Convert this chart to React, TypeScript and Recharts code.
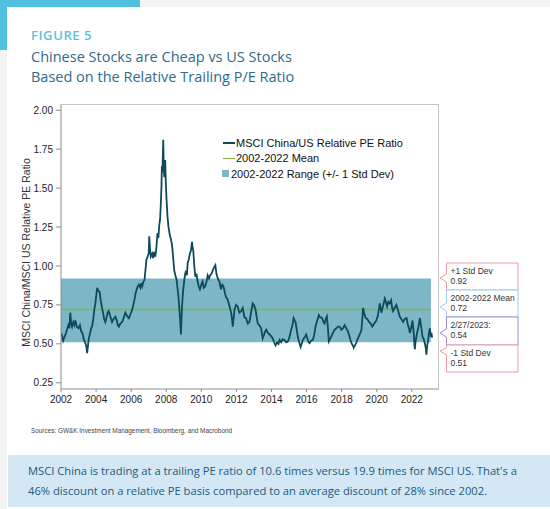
import React from "react";
import {
  LineChart,
  Line,
  XAxis,
  YAxis,
  ReferenceArea,
  ReferenceLine,
} from "recharts";

// decimal year of each reading
const years = [
  2002.0, 2002.06, 2002.12, 2002.18, 2002.26, 2002.34, 2002.42, 2002.48, 2002.53, 2002.58,
  2002.63, 2002.7, 2002.76, 2002.82, 2002.9, 2003.0, 2003.08, 2003.15, 2003.22, 2003.3,
  2003.39, 2003.45, 2003.49, 2003.54, 2003.58, 2003.66, 2003.72, 2003.77, 2003.84, 2003.9,
  2003.96, 2004.02, 2004.06, 2004.12, 2004.2, 2004.26, 2004.34, 2004.4, 2004.46, 2004.53,
  2004.6, 2004.66, 2004.72, 2004.8, 2004.86, 2004.91, 2005.0, 2005.1, 2005.18, 2005.24,
  2005.3, 2005.38, 2005.49, 2005.58, 2005.67, 2005.76, 2005.87, 2005.96, 2006.06, 2006.14,
  2006.2, 2006.25, 2006.32, 2006.38, 2006.44, 2006.52, 2006.58, 2006.63, 2006.7, 2006.76,
  2006.82, 2006.87, 2006.94, 2007.0, 2007.03, 2007.08, 2007.12, 2007.2, 2007.26, 2007.31,
  2007.38, 2007.44, 2007.5, 2007.55, 2007.6, 2007.65, 2007.7, 2007.73, 2007.75, 2007.78,
  2007.81, 2007.83, 2007.86, 2007.89, 2007.92, 2007.94, 2007.98, 2008.02, 2008.07, 2008.13,
  2008.2, 2008.27, 2008.32, 2008.36, 2008.42, 2008.46, 2008.52, 2008.59, 2008.64, 2008.7,
  2008.75, 2008.78, 2008.81, 2008.84, 2008.87, 2008.9, 2008.96, 2009.03, 2009.08, 2009.13,
  2009.18, 2009.22, 2009.28, 2009.35, 2009.41, 2009.47, 2009.5, 2009.54, 2009.6, 2009.66,
  2009.72, 2009.79, 2009.85, 2009.92, 2010.0, 2010.07, 2010.14, 2010.22, 2010.3, 2010.36,
  2010.44, 2010.5, 2010.58, 2010.65, 2010.72, 2010.8, 2010.86, 2010.94, 2011.03, 2011.12,
  2011.19, 2011.26, 2011.34, 2011.41, 2011.48, 2011.56, 2011.63, 2011.7, 2011.75, 2011.79,
  2011.84, 2011.89, 2011.98, 2012.07, 2012.17, 2012.27, 2012.36, 2012.46, 2012.55, 2012.65,
  2012.74, 2012.82, 2012.88, 2012.93, 2013.0, 2013.09, 2013.16, 2013.22, 2013.3, 2013.41,
  2013.46, 2013.5, 2013.58, 2013.64, 2013.7, 2013.8, 2013.89, 2013.98, 2014.07, 2014.15,
  2014.23, 2014.32, 2014.4, 2014.46, 2014.55, 2014.64, 2014.74, 2014.84, 2014.93, 2015.02,
  2015.12, 2015.2, 2015.26, 2015.32, 2015.37, 2015.44, 2015.5, 2015.58, 2015.66, 2015.72,
  2015.79, 2015.88, 2015.98, 2016.06, 2016.12, 2016.17, 2016.26, 2016.36, 2016.44, 2016.51,
  2016.58, 2016.64, 2016.7, 2016.78, 2016.89, 2016.96, 2017.03, 2017.1, 2017.16, 2017.22,
  2017.27, 2017.34, 2017.42, 2017.5, 2017.6, 2017.7, 2017.79, 2017.89, 2017.98, 2018.08,
  2018.17, 2018.26, 2018.36, 2018.44, 2018.5, 2018.58, 2018.64, 2018.69, 2018.76, 2018.84,
  2018.93, 2019.03, 2019.13, 2019.18, 2019.22, 2019.28, 2019.37, 2019.46, 2019.56, 2019.66,
  2019.75, 2019.86, 2019.98, 2020.06, 2020.12, 2020.17, 2020.22, 2020.27, 2020.35, 2020.42,
  2020.46, 2020.52, 2020.59, 2020.66, 2020.74, 2020.82, 2020.88, 2020.93, 2021.02, 2021.12,
  2021.2, 2021.31, 2021.4, 2021.5, 2021.6, 2021.7, 2021.78, 2021.84, 2021.89, 2021.96,
  2022.04, 2022.1, 2022.14, 2022.17, 2022.22, 2022.3, 2022.38, 2022.46, 2022.52, 2022.61,
  2022.68, 2022.74, 2022.8, 2022.83, 2022.87, 2022.93, 2022.98, 2023.03, 2023.09, 2023.12,
  2023.16,
];

// MSCI China / MSCI US relative trailing PE
const ratio = [
  0.57, 0.55, 0.52, 0.54, 0.56, 0.59, 0.62, 0.6, 0.7, 0.63,
  0.61, 0.64, 0.62, 0.65, 0.61, 0.6, 0.62, 0.58, 0.57, 0.53,
  0.505, 0.48, 0.44, 0.49, 0.53, 0.57, 0.6, 0.61, 0.66, 0.72,
  0.76, 0.82, 0.86, 0.84, 0.835, 0.78, 0.73, 0.7, 0.66, 0.64,
  0.67, 0.7, 0.71, 0.68, 0.66, 0.64, 0.66, 0.675, 0.65, 0.62,
  0.61, 0.63, 0.64, 0.67, 0.7, 0.68, 0.665, 0.69, 0.72, 0.76,
  0.79, 0.825, 0.85, 0.87, 0.88, 0.86, 0.89, 0.87, 0.9, 0.91,
  0.98, 1.04, 1.06, 1.08, 1.19, 1.1, 1.06, 1.08, 1.05, 1.09,
  1.06, 1.12, 1.21, 1.18, 1.26, 1.3, 1.42, 1.52, 1.64, 1.6,
  1.72, 1.81, 1.62, 1.57, 1.65, 1.68, 1.52, 1.42, 1.32, 1.25,
  1.2, 1.17, 1.14, 1.1, 1.02, 0.97, 0.94, 0.91, 0.86, 0.8,
  0.72, 0.675, 0.62, 0.56, 0.66, 0.74, 0.84, 0.91, 0.95, 0.97,
  0.94, 1.02, 1.04, 1.08, 1.1, 1.155, 1.12, 1.1, 1.0, 0.93,
  0.95, 0.9, 0.87, 0.85, 0.88, 0.9, 0.86, 0.87, 0.9, 0.94,
  0.92, 0.94, 0.95, 0.97, 0.99, 1.005, 0.95, 0.92, 0.9, 0.85,
  0.88, 0.87, 0.83, 0.8, 0.79, 0.76, 0.73, 0.7, 0.66, 0.61,
  0.66, 0.72, 0.75, 0.74, 0.7, 0.71, 0.73, 0.67, 0.665, 0.63,
  0.64, 0.69, 0.73, 0.76, 0.75, 0.72, 0.67, 0.63, 0.62, 0.6,
  0.56, 0.535, 0.56, 0.58, 0.59, 0.57, 0.56, 0.55, 0.535, 0.51,
  0.49, 0.51, 0.5, 0.525, 0.51, 0.53, 0.525, 0.51, 0.515, 0.54,
  0.59, 0.62, 0.665, 0.65, 0.64, 0.59, 0.545, 0.51, 0.48, 0.5,
  0.525, 0.54, 0.56, 0.53, 0.51, 0.505, 0.52, 0.525, 0.56, 0.61,
  0.64, 0.66, 0.685, 0.67, 0.665, 0.64, 0.63, 0.66, 0.675, 0.6,
  0.515, 0.53, 0.55, 0.57, 0.59, 0.6, 0.61, 0.61, 0.59, 0.6,
  0.62, 0.6, 0.58, 0.55, 0.525, 0.5, 0.49, 0.475, 0.49, 0.51,
  0.535, 0.56, 0.59, 0.66, 0.73, 0.7, 0.665, 0.66, 0.64, 0.63,
  0.61, 0.63, 0.65, 0.68, 0.72, 0.76, 0.73, 0.7, 0.74, 0.77,
  0.79, 0.77, 0.74, 0.77, 0.76, 0.78, 0.73, 0.71, 0.73, 0.75,
  0.72, 0.675, 0.66, 0.64, 0.66, 0.665, 0.62, 0.6, 0.57, 0.6,
  0.65, 0.58, 0.51, 0.465, 0.52, 0.57, 0.61, 0.665, 0.62, 0.545,
  0.53, 0.505, 0.47, 0.43, 0.48, 0.525, 0.57, 0.6, 0.545, 0.57,
  0.54,
];

const MEAN = 0.72;
const STD_UP = 0.92;
const STD_DOWN = 0.51;
const RANGE_START = 2002;
const RANGE_END = 2023.09;

const xTicks = [2002, 2004, 2006, 2008, 2010, 2012, 2014, 2016, 2018, 2020, 2022];
const yTicks = [0.25, 0.5, 0.75, 1.0, 1.25, 1.5, 1.75, 2.0];

const legendItems = [
  { label: "MSCI China/US Relative PE Ratio", color: "#0c4a5c", kind: "line" },
  { label: "2002-2022 Mean", color: "#8fae3e", kind: "thin" },
  { label: "2002-2022 Range (+/- 1 Std Dev)", color: "#7db7c7", kind: "box" },
];

const callouts = [
  { title: "+1 Std Dev", value: "0.92", color: "#f29aa6" },
  { title: "2002-2022 Mean", value: "0.72", color: "#9fd0ec" },
  { title: "2/27/2023:", value: "0.54", color: "#a08cd6" },
  { title: "-1 Std Dev", value: "0.51", color: "#f29aa6" },
];

const data = years.map((year, i) => ({ year, ratio: ratio[i] }));

const axisFont = "'Liberation Sans', Arial, sans-serif";
const textFont = "'Open Sans', 'Noto Sans', sans-serif";

const renderYLabel = (props: any) => {
  const { viewBox } = props;
  const x = viewBox.x + 5;
  const y = viewBox.y + viewBox.height / 2 + 6;
  return (
    <text
      x={x}
      y={y}
      transform={`rotate(-90, ${x}, ${y})`}
      textAnchor="middle"
      dominantBaseline="central"
      fontFamily={axisFont}
      fontSize={10.5}
      fill="#333"
    >
      MSCI China/MSCI US Relative PE Ratio
    </text>
  );
};

const ChartLegend = () => (
  <div
    style={{
      position: "absolute",
      left: 222,
      top: 135,
      fontFamily: axisFont,
      fontSize: 11,
      color: "#111",
    }}
  >
    {legendItems.map((item) => (
      <div
        key={item.label}
        style={{ display: "flex", alignItems: "center", height: 15.5 }}
      >
        {item.kind === "box" ? (
          <span
            style={{
              width: 7,
              height: 7,
              background: item.color,
              marginRight: 2,
            }}
          />
        ) : (
          <span
            style={{
              width: 12,
              height: item.kind === "line" ? 2 : 1,
              background: item.color,
              marginLeft: 1,
              marginRight: 1,
            }}
          />
        )}
        <span>{item.label}</span>
      </div>
    ))}
  </div>
);

// stacked callout boxes on the right of the plot
const Callouts = () => {
  const left = 446.5;
  const right = 518;
  const tops = [263, 290, 317, 345];
  const bottoms = [290, 317, 345, 372];
  const tips = [278, 307, 333, 352];
  return (
    <svg
      width={550}
      height={509}
      style={{ position: "absolute", left: 0, top: 0, pointerEvents: "none" }}
    >
      {callouts.map((c, i) => {
        const t = tops[i];
        const b = bottoms[i];
        const tip = tips[i];
        const path =
          i === 3
            ? `M${left},${t} L${right},${t} L${right},${b} L${left},${b} L${left},${tip + 3} L${440},${tip - 1} L${left},${t + 3} Z`
            : `M${left},${t} L${right},${t} L${right},${b} L${left},${b} L${left},${tip + 4} L${440},${tip} L${left},${tip - 4} Z`;
        return (
          <g key={c.title}>
            <path d={path} fill="#fff" stroke={c.color} strokeWidth={1} />
            <text x={left + 4} y={t + 11} fontFamily={axisFont} fontSize={8.5} fill="#333">
              {c.title}
            </text>
            <text x={left + 4} y={t + 21} fontFamily={axisFont} fontSize={8.5} fill="#333">
              {c.value}
            </text>
          </g>
        );
      })}
    </svg>
  );
};

export default function App() {
  return (
    <div
      style={{
        position: "absolute",
        left: 0,
        top: 0,
        width: 550,
        height: 509,
        background: "#f3f3f3",
        overflow: "hidden",
      }}
    >
      <div style={{ position: "absolute", left: 0, top: 0, width: 140, height: 7, background: "#4fc0de" }} />
      <div style={{ position: "absolute", left: 0, top: 0, width: 7, height: 50, background: "#4fc0de" }} />
      <div style={{ position: "absolute", left: 7, top: 7, width: 543, height: 502, background: "#fff" }} />

      <div
        style={{
          position: "absolute",
          left: 31,
          top: 26,
          fontFamily: textFont,
          fontSize: 13,
          fontWeight: 600,
          letterSpacing: 0.6,
          color: "#5cc1e0",
        }}
      >
        FIGURE 5
      </div>
      <div
        style={{
          position: "absolute",
          left: 31,
          top: 47,
          fontFamily: textFont,
          fontSize: 14.5,
          lineHeight: "20px",
          color: "#2e6c8c",
        }}
      >
        Chinese Stocks are Cheap vs US Stocks
        <br />
        Based on the Relative Trailing P/E Ratio
      </div>

      <div style={{ position: "absolute", left: 0, top: 0 }}>
        <LineChart
          width={550}
          height={509}
          data={data}
          margin={{ top: 104, right: 111, bottom: 100, left: 21 }}
        >
          <XAxis
            type="number"
            dataKey="year"
            domain={[2002, 2023.55]}
            ticks={xTicks}
            interval={0}
            allowDataOverflow
            height={20}
            tickSize={3}
            tickMargin={4}
            stroke="#8c8c8c"
            tick={{ fill: "#222", fontSize: 10, fontFamily: axisFont }}
          />
          <YAxis
            type="number"
            domain={[0.21, 2.04]}
            ticks={yTicks}
            interval={0}
            allowDataOverflow
            width={40}
            tickSize={5}
            tickMargin={3}
            stroke="#8c8c8c"
            tickFormatter={(v: number) => v.toFixed(2)}
            tick={{ fill: "#222", fontSize: 10, fontFamily: axisFont }}
            label={{ content: renderYLabel }}
          />
          <ReferenceArea
            x1={RANGE_START}
            x2={RANGE_END}
            y1={STD_DOWN}
            y2={STD_UP}
            fill="#7db7c7"
            fillOpacity={1}
            stroke="none"
          />
          <ReferenceLine
            segment={[
              { x: RANGE_START, y: MEAN },
              { x: RANGE_END, y: MEAN },
            ]}
            stroke="#8fae3e"
            strokeWidth={1.6}
          />
          <Line
            type="linear"
            dataKey="ratio"
            stroke="#0c4a5c"
            strokeWidth={1.8}
            dot={false}
            isAnimationActive={false}
          />
        </LineChart>
      </div>

      <ChartLegend />

      <div
        style={{
          position: "absolute",
          left: 61,
          top: 104,
          width: 378,
          height: 285,
          boxSizing: "border-box",
          borderTop: "1px solid #c4c4c4",
          borderRight: "1px solid #c4c4c4",
          pointerEvents: "none",
        }}
      />

      <Callouts />

      <div
        style={{
          position: "absolute",
          left: 31,
          top: 427,
          fontFamily: axisFont,
          fontSize: 6.4,
          color: "#444",
        }}
      >
        Sources: GW&amp;K Investment Management, Bloomberg, and Macrobond
      </div>

      <div
        style={{
          position: "absolute",
          left: 8,
          top: 455,
          width: 542,
          height: 52,
          background: "#d3e8f4",
        }}
      />
      <div
        style={{
          position: "absolute",
          left: 28,
          top: 461,
          fontFamily: textFont,
          fontSize: 11.2,
          lineHeight: "20px",
          color: "#235a7c",
          whiteSpace: "nowrap",
        }}
      >
        MSCI China is trading at a trailing PE ratio of 10.6 times versus 19.9 times for MSCI US. That's a
        <br />
        46% discount on a relative PE basis compared to an average discount of 28% since 2002.
      </div>
    </div>
  );
}
